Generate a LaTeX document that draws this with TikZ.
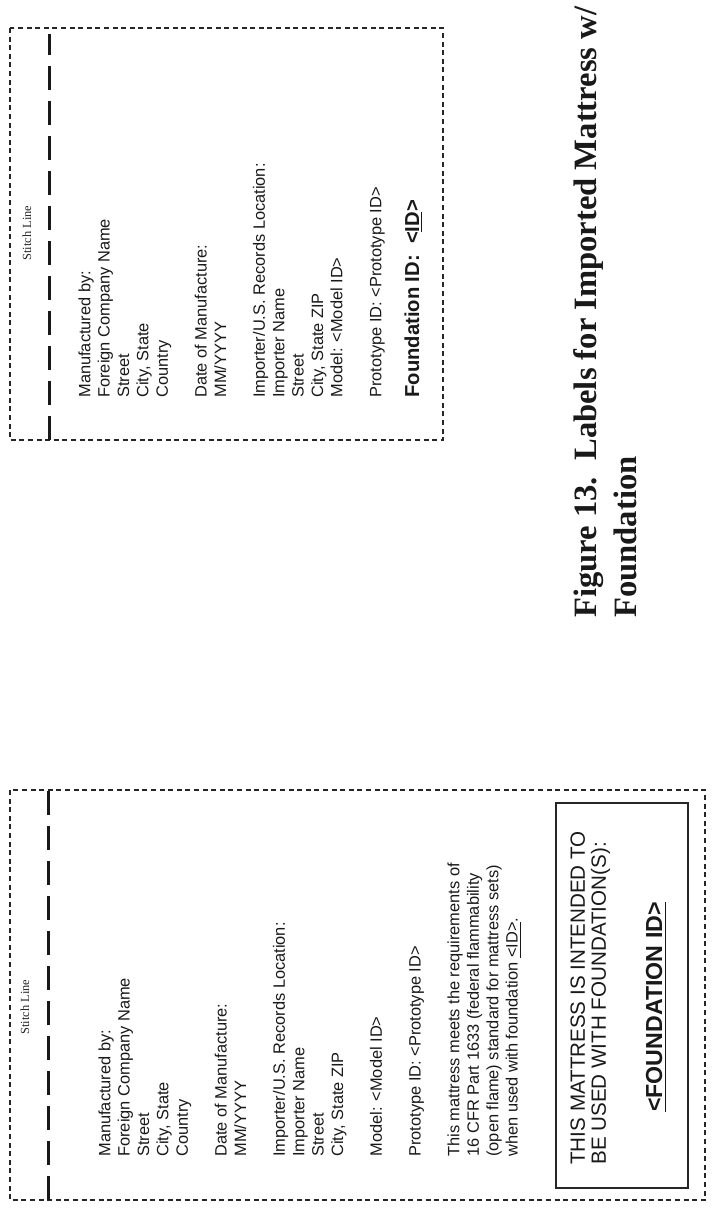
\documentclass[tikz,border=0pt]{standalone}
\usepackage{fontspec}
\setmainfont{Liberation Sans}
\newfontfamily\serifcap{Liberation Serif}
\tikzset{
  cutline/.style={draw=black!85, line width=0.6pt, dash pattern=on 2.5pt off 1.8pt},
  stitchline/.style={draw=black!90, line width=1.5pt, dash pattern=on 12pt off 5.5pt},
  bodytext/.style={rotate=90, anchor=north west, align=left, inner sep=0pt, text=black!90,
    font=\fontsize{8.2}{9.7}\selectfont},
  stitchlabel/.style={rotate=90, inner sep=0pt, text=black!85, font=\serifcap\fontsize{6.2}{7}\selectfont},
}
\begin{document}
\begin{tikzpicture}[x=0.5pt,y=-0.5pt]
\useasboundingbox[fill=white] (0,0) rectangle (717,1211);

% ---------- upper label (foundation) ----------
\draw[cutline] (10,28) rectangle (443,440);
\draw[stitchline] (49,440) -- (49,34);
\node[stitchlabel] (st1) at (27,233) {Stitch Line};
\node[bodytext] (t1) at (78,398) {Manufactured by:\\Foreign Company Name\\Street\\City, State\\Country\\[9.7pt]Date of Manufacture:\\MM/YYYY\\[9.7pt]Importer/U.S. Records Location:\\Importer Name\\Street\\City, State ZIP\\Model: <Model ID>\\[9.7pt]Prototype ID: <Prototype ID>};
\node[rotate=90, anchor=north west, inner sep=0pt, text=black!90,
  font=\bfseries\fontsize{10.1}{12}\selectfont] (f1) at (404,398) {Foundation ID:\ \ <\underline{ID}>};

% ---------- lower label (mattress) ----------
\draw[cutline] (10,790) rectangle (705,1200);
\draw[stitchline] (48,1200) -- (48,790);
\node[stitchlabel] (st2) at (25,1007) {Stitch Line};
\node[bodytext] (t2) at (98,1157) {Manufactured by:\\Foreign Company Name\\Street\\City, State\\Country\\[9.7pt]Date of Manufacture:\\MM/YYYY\\[9.7pt]Importer/U.S. Records Location:\\Importer Name\\Street\\City, State ZIP\\[9.7pt]Model: <Model ID>\\[9.7pt]Prototype ID: <Prototype ID>\\[9.7pt]This mattress meets the requirements of\\16 CFR Part 1633 (federal flammability\\(open flame) standard for mattress sets)\\when used with foundation \underline{<ID>}.};

\draw[draw=black!85, line width=0.75pt] (556,803) rectangle (688,1188);
\node[rotate=90, anchor=north west, align=left, inner sep=0pt, text=black!90,
  font=\fontsize{10.3}{10.6}\selectfont] (w) at (570,1165) {THIS MATTRESS IS INTENDED TO\\BE USED WITH FOUNDATION(S):};
\node[rotate=90, anchor=base, inner sep=0pt, text=black!90,
  font=\bfseries\fontsize{11.6}{13}\selectfont] (fid) at (662,1007) {\underline{<FOUNDATION ID>}};

% ---------- caption ----------
\node[rotate=90, anchor=north west, align=left, inner sep=0pt, text=black!90,
  font=\serifcap\bfseries\fontsize{16.3}{20}\selectfont] (cap) at (573,618) {Figure 13.\ \ Labels for Imported Mattress w/\\Foundation};
\end{tikzpicture}
\end{document}
